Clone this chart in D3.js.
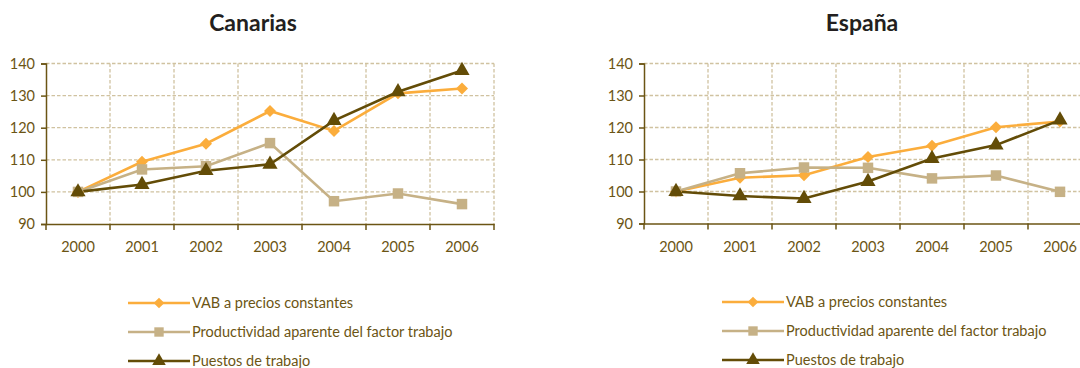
<!DOCTYPE html>
<html><head><meta charset="utf-8">
<script src="https://cdn.jsdelivr.net/npm/d3@7"></script>
<style>body{margin:0;background:#fff;overflow:hidden}svg{display:block}</style>
</head><body>
<svg id="c" width="1080" height="368"></svg>
<script>
const years = ["2000","2001","2002","2003","2004","2005","2006"];
const yTicks = [90,100,110,120,130,140];
const seriesNames = ["VAB a precios constantes","Productividad aparente del factor trabajo","Puestos de trabajo"];
const canVAB = [100,109.4,115,125.2,119,130.7,132.2];
const canProd = [100,107,108,115.2,97.1,99.5,96.2];
const canPuestos = [100,102.3,106.6,108.6,122.2,131.2,137.8];
const espVAB = [100,104.3,105.1,110.8,114.3,120.1,121.9];
const espProd = [100,105.7,107.5,107.4,104.1,105,99.9];
const espPuestos = [100,98.6,97.8,103.1,110.3,114.5,122.3];

const colors = ["#fbad3c","#c6b186","#634c07"];
const shapes = [d3.symbolSquare, d3.symbolSquare, d3.symbolTriangle];
const shapeRot = [45, 0, 0];
const shapeSizes = [72, 110, 100];
const textCol = "#6b5514";
const axisCol = "#6b5514";
const gridCol = "#d0c2a0";
const font = "Lato, 'Open Sans', sans-serif";

const svg = d3.select("#c");

function drawChart(cfg){
  const g = svg.append("g");
  const x = d3.scaleBand().domain(years).range([cfg.x0, cfg.x0 + 448]).paddingInner(0).paddingOuter(0);
  const y = d3.scaleLinear().domain([90,140]).range([cfg.yBottom, 63.5]);
  const xRight = cfg.x0 + 448;
  g.append("text").attr("x", cfg.titleX).attr("y", 31).attr("text-anchor","middle")
    .attr("font-family", font).attr("font-weight","bold").attr("font-size", 23).attr("fill","#231f20").text(cfg.title);
  g.selectAll(".hg").data(yTicks.filter(v=>v>90)).join("line")
    .attr("x1", cfg.x0).attr("x2", xRight).attr("y1", d=>y(d)).attr("y2", d=>y(d))
    .attr("stroke", gridCol).attr("stroke-width",1.3).attr("stroke-dasharray","3.5,2");
  const vb = years.slice(1).map(d=>x(d)).concat([xRight]);
  g.selectAll(".vg").data(vb).join("line")
    .attr("x1", d=>d).attr("x2", d=>d).attr("y1", y(140)).attr("y2", y(90))
    .attr("stroke", gridCol).attr("stroke-width",1.3).attr("stroke-dasharray","3.5,2");
  const ya = g.append("g").attr("transform",`translate(${cfg.x0},0)`)
    .call(d3.axisLeft(y).tickValues(yTicks).tickSize(5).tickPadding(6));
  ya.select(".domain").attr("stroke", axisCol).attr("stroke-width",1.5);
  ya.selectAll(".tick line").attr("stroke", axisCol).attr("stroke-width",1.5);
  ya.selectAll("text").attr("font-family", font).attr("font-size", 14.5).attr("fill", textCol);
  const xa = g.append("g").attr("transform",`translate(0,${y(90)})`)
    .call(d3.axisBottom(x).tickSize(0).tickPadding(18));
  xa.select(".domain").attr("stroke", axisCol).attr("stroke-width",1.5);
  xa.selectAll("text").attr("font-family", font).attr("font-size", 14.5).attr("fill", textCol);
  g.selectAll(".xt").data(years.map(d=>x(d)).concat([xRight])).join("line")
    .attr("x1", d=>d).attr("x2", d=>d).attr("y1", y(90)).attr("y2", y(90)+6)
    .attr("stroke", axisCol).attr("stroke-width",1.5);
  const line = d3.line().x((d,i)=>x(years[i]) + x.bandwidth()/2).y(d=>y(d));
  cfg.series.forEach((s, k) => {
    g.append("path").datum(s).attr("d", line).attr("fill","none")
      .attr("stroke", colors[k]).attr("stroke-width", 2.6);
  });
  cfg.series.forEach((s, k) => {
    g.selectAll(".m"+k).data(s).join("path")
      .attr("transform",(d,i)=>`translate(${x(years[i]) + x.bandwidth()/2},${y(d)}) rotate(${shapeRot[k]})`)
      .attr("d", d3.symbol().type(shapes[k]).size(shapeSizes[k]))
      .attr("fill", colors[k]);
  });
  const lg = g.append("g");
  seriesNames.forEach((n,k)=>{
    const ly = cfg.legY + k*29;
    lg.append("line").attr("x1", cfg.legX).attr("x2", cfg.legX+62).attr("y1", ly).attr("y2", ly)
      .attr("stroke", colors[k]).attr("stroke-width", 2.6);
    lg.append("path").attr("transform",`translate(${cfg.legX+31},${ly}) rotate(${shapeRot[k]})`)
      .attr("d", d3.symbol().type(shapes[k]).size(shapeSizes[k]*0.8)).attr("fill", colors[k]);
    lg.append("text").attr("x", cfg.legX+64).attr("y", ly+5)
      .attr("font-family", font).attr("font-size", 14.5).attr("fill", textCol).text(n);
  });
}

drawChart({x0:46, yBottom:224, title:"Canarias", titleX:253, legX:128, legY:303,
  series:[canVAB, canProd, canPuestos]});
drawChart({x0:644, yBottom:223.5, title:"España", titleX:862, legX:722, legY:302,
  series:[espVAB, espProd, espPuestos]});
</script>
</body></html>
